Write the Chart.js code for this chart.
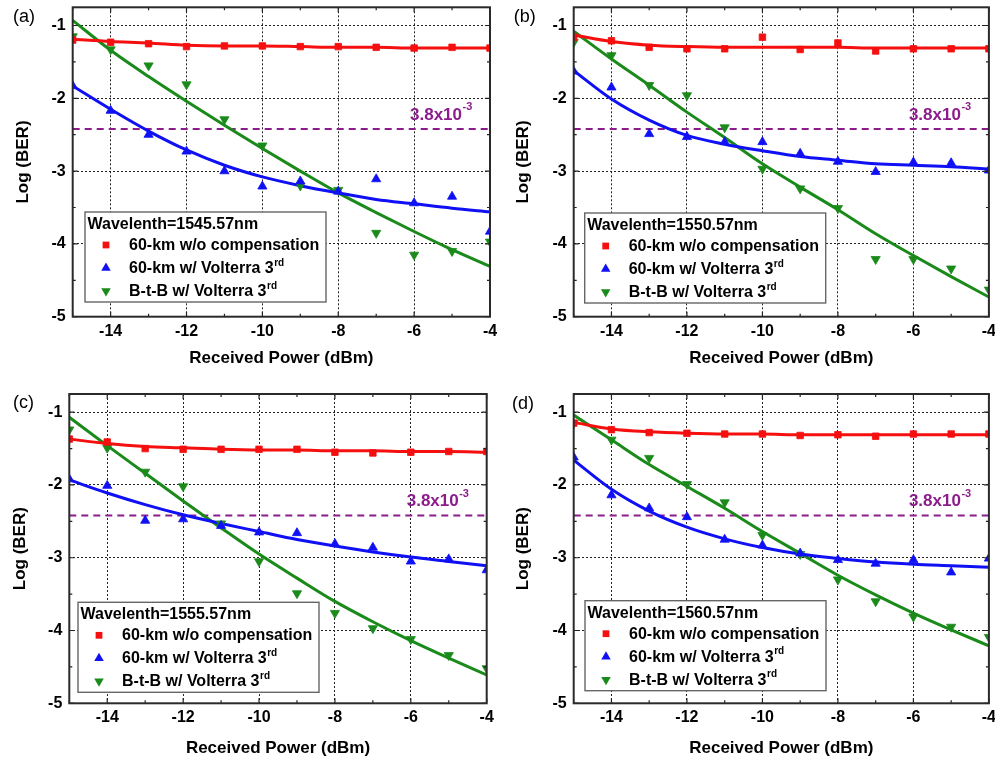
<!DOCTYPE html>
<html><head><meta charset="utf-8">
<script src="https://cdn.jsdelivr.net/npm/chart.js@4.4.1/dist/chart.umd.min.js"></script>
<style>
html,body{margin:0;padding:0;background:#fff;}
body{width:995px;height:759px;position:relative;overflow:hidden;}
.pane{position:absolute;}
</style></head><body>
<div class="pane" id="pa" style="left:0;top:0;width:497px;height:380px"><canvas id="ca"></canvas></div>
<div class="pane" id="pb" style="left:497px;top:0;width:498px;height:380px"><canvas id="cb"></canvas></div>
<div class="pane" id="pc" style="left:0;top:380px;width:497px;height:379px"><canvas id="cc"></canvas></div>
<div class="pane" id="pd" style="left:497px;top:380px;width:498px;height:379px"><canvas id="cd"></canvas></div>
<script>
// ---------- data ----------
const powerDbm = [-15,-14,-13,-12,-11,-10,-9,-8,-7,-6,-5,-4];
const xTickValues = [-14,-12,-10,-8,-6,-4];
const xTickLabels = ['-14','-12','-10','-8','-6','-4'];
const yTickValues = [-5,-4,-3,-2,-1];
const yTickLabels = ['-5','-4','-3','-2','-1'];
const panelLabels = ['(a)','(b)','(c)','(d)'];
const wavelengthLabels = ['Wavelenth=1545.57nm','Wavelenth=1550.57nm','Wavelenth=1555.57nm','Wavelenth=1560.57nm'];
const seriesNames = ['60-km w/o compensation','60-km w/ Volterra 3','B-t-B w/ Volterra 3'];
const seriesSup = ['','rd','rd'];
const xTitle = 'Received Power (dBm)';
const yTitle = 'Log (BER)';
const fecLogBer = -2.42;
const fecText = '3.8x10';
const fecExp = '-3';

// (a) 1545.57 nm
const aNoComp      = [-1.20,-1.23,-1.25,-1.29,-1.28,-1.28,-1.29,-1.29,-1.30,-1.31,-1.30,-1.31];
const aNoCompFit   = [-1.19,-1.22,-1.24,-1.27,-1.28,-1.28,-1.29,-1.30,-1.30,-1.31,-1.31,-1.31];
const aVolterra    = [-1.83,-2.17,-2.50,-2.73,-3.00,-3.21,-3.14,-3.28,-3.11,-3.44,-3.35,-3.83];
const aVolterraFit = [-1.83,-2.15,-2.45,-2.71,-2.92,-3.08,-3.20,-3.30,-3.39,-3.45,-3.51,-3.56];
const aBtB         = [-1.15,-1.33,-1.55,-1.81,-2.29,-2.65,-3.20,-3.26,-3.85,-4.15,-4.10,-3.97];
const aBtBFit      = [-0.93,-1.34,-1.70,-2.04,-2.37,-2.69,-3.00,-3.30,-3.57,-3.83,-4.08,-4.31];
// (b) 1550.57 nm
const bNoComp      = [-1.16,-1.21,-1.30,-1.32,-1.32,-1.16,-1.33,-1.24,-1.35,-1.32,-1.32,-1.32];
const bNoCompFit   = [-1.13,-1.22,-1.27,-1.29,-1.30,-1.30,-1.30,-1.30,-1.31,-1.31,-1.31,-1.31];
const bVolterra    = [-1.63,-1.85,-2.49,-2.53,-2.60,-2.60,-2.76,-2.87,-3.01,-2.88,-2.89,-2.99];
const bVolterraFit = [-1.62,-2.01,-2.30,-2.51,-2.63,-2.72,-2.80,-2.85,-2.90,-2.92,-2.94,-2.97];
const bBtB         = [-1.23,-1.41,-1.82,-1.96,-2.40,-2.97,-3.24,-3.51,-4.21,-4.21,-4.34,-4.63];
const bBtBFit      = [-1.08,-1.46,-1.82,-2.19,-2.54,-2.90,-3.22,-3.53,-3.86,-4.16,-4.45,-4.73];
// (c) 1555.57 nm
const cNoComp      = [-1.37,-1.41,-1.50,-1.51,-1.51,-1.51,-1.51,-1.55,-1.56,-1.55,-1.54,-1.54];
const cNoCompFit   = [-1.37,-1.43,-1.47,-1.49,-1.51,-1.52,-1.52,-1.53,-1.53,-1.54,-1.54,-1.55];
const cVolterra    = [-1.92,-2.01,-2.49,-2.47,-2.56,-2.65,-2.66,-2.81,-2.86,-3.05,-3.02,-3.17];
const cVolterraFit = [-1.93,-2.11,-2.27,-2.41,-2.53,-2.64,-2.75,-2.84,-2.92,-2.99,-3.05,-3.11];
const cBtB         = [-1.24,-1.49,-1.82,-2.02,-2.53,-3.05,-3.49,-3.76,-3.97,-4.12,-4.34,-4.52];
const cBtBFit      = [-1.07,-1.46,-1.84,-2.22,-2.59,-2.95,-3.28,-3.60,-3.88,-4.14,-4.38,-4.61];
// (d) 1560.57 nm
const dNoComp      = [-1.15,-1.24,-1.28,-1.29,-1.30,-1.30,-1.32,-1.31,-1.33,-1.30,-1.30,-1.30];
const dNoCompFit   = [-1.14,-1.23,-1.27,-1.29,-1.30,-1.30,-1.31,-1.31,-1.31,-1.31,-1.31,-1.31];
const dVolterra    = [-1.62,-2.14,-2.32,-2.44,-2.75,-2.83,-2.94,-3.03,-3.08,-3.03,-3.20,-3.01];
const dVolterraFit = [-1.66,-2.06,-2.36,-2.58,-2.74,-2.86,-2.95,-3.01,-3.06,-3.09,-3.11,-3.13];
const dBtB         = [-1.15,-1.38,-1.63,-1.99,-2.24,-2.69,-2.95,-3.30,-3.60,-3.81,-3.95,-4.09];
const dBtBFit      = [-1.04,-1.38,-1.72,-2.02,-2.32,-2.64,-2.94,-3.24,-3.51,-3.76,-3.99,-4.21];

// ---------- styling / layout ----------
const FONT = '"Liberation Sans", Arial, Helvetica, sans-serif';
Chart.defaults.font.family = FONT;
const RED = '#f50f0f', BLUE = '#1010f5', GREEN = '#1a8a1a', PURPLE = '#8c1c8c';
const seriesColors = [RED, BLUE, GREEN];
const seriesStyles = [{ps:'rect', rot:0}, {ps:'triangle', rot:0}, {ps:'triangle', rot:180}];

const panels = [
  {canvas:'ca', w:497, h:380, area:{l:72.7,t:7.3,r:490,b:316.7}, yPad:12.8, xPad:11.8, leg:{dx:12.3,db:14.7}, lab:{x:13,y:17},
   pts:[aNoComp,aVolterra,aBtB], fits:[aNoCompFit,aVolterraFit,aBtBFit]},
  {canvas:'cb', w:498, h:380, area:{l:76.7,t:7.3,r:493.3,b:316.7}, yPad:16.5, xPad:11.8, leg:{dx:11,db:13.7}, lab:{x:16.7,y:17},
   pts:[bNoComp,bVolterra,bBtB], fits:[bNoCompFit,bVolterraFit,bBtBFit]},
  {canvas:'cc', w:497, h:379, area:{l:69.3,t:14,r:486.7,b:323.3}, yPad:10, xPad:0.8, leg:{dx:8.7,db:11}, lab:{x:13,y:23},
   pts:[cNoComp,cVolterra,cBtB], fits:[cNoCompFit,cVolterraFit,cBtBFit]},
  {canvas:'cd', w:498, h:379, area:{l:76.7,t:14,r:493.3,b:323.3}, yPad:16.5, xPad:0.8, leg:{dx:11.3,db:12.6}, lab:{x:15,y:24},
   pts:[dNoComp,dVolterra,dBtB], fits:[dNoCompFit,dVolterraFit,dBtBFit]}
];

function drawMarker(ctx, style, color, x, y, r) {
  ctx.save();
  ctx.fillStyle = color;
  ctx.beginPath();
  if (style.ps === 'rect') {
    ctx.rect(x - r*0.72, y - r*0.72, r*1.44, r*1.44);
  } else {
    const s = style.rot === 180 ? -1 : 1;
    ctx.moveTo(x, y - s*r);
    ctx.lineTo(x - r*0.866, y + s*r*0.5);
    ctx.lineTo(x + r*0.866, y + s*r*0.5);
    ctx.closePath();
  }
  ctx.fill();
  ctx.restore();
}

const decorPlugin = {
  id: 'decor',
  afterDraw(chart) {
    const P = chart.config.options.plugins.decor.panel;
    const idx = chart.config.options.plugins.decor.index;
    const ctx = chart.ctx;
    const a = chart.chartArea;
    const xs = chart.scales.x, ys = chart.scales.y;
    ctx.save();
    // inward tick marks
    ctx.strokeStyle = '#222';
    ctx.lineWidth = 1.2;
    ctx.beginPath();
    for (let v = -15; v <= -4; v++) {
      const px = xs.getPixelForValue(v);
      const len = (v % 2 === 0) ? 5 : 3;
      ctx.moveTo(px, a.bottom); ctx.lineTo(px, a.bottom - len);
      ctx.moveTo(px, a.top); ctx.lineTo(px, a.top + len);
    }
    for (let v = -5; v <= -1; v += 0.5) {
      const py = ys.getPixelForValue(v);
      const len = Number.isInteger(v) ? 5 : 3;
      ctx.moveTo(a.left, py); ctx.lineTo(a.left + len, py);
      ctx.moveTo(a.right, py); ctx.lineTo(a.right - len, py);
    }
    ctx.stroke();
    // frame
    ctx.strokeStyle = '#2a2a2a';
    ctx.lineWidth = 2;
    ctx.strokeRect(a.left, a.top, a.right - a.left, a.bottom - a.top);

    // FEC label
    const fy = ys.getPixelForValue(fecLogBer);
    ctx.fillStyle = PURPLE;
    ctx.textBaseline = 'middle';
    ctx.textAlign = 'left';
    ctx.font = 'bold 17px ' + FONT;
    const tx = a.right - 80;
    ctx.fillText(fecText, tx, fy - 14);
    const tw = ctx.measureText(fecText).width;
    ctx.font = 'bold 11px ' + FONT;
    ctx.fillText(fecExp, tx + tw + 0.5, fy - 21.5);

    // legend
    const bw = 241, bh = 90;
    const bx = a.left + P.leg.dx, by = a.bottom - P.leg.db - bh;
    ctx.fillStyle = '#fff';
    ctx.fillRect(bx, by, bw, bh);
    ctx.strokeStyle = '#666';
    ctx.lineWidth = 1.4;
    ctx.strokeRect(bx, by, bw, bh);
    ctx.fillStyle = '#000';
    ctx.font = 'bold 16px ' + FONT;
    ctx.fillText(wavelengthLabels[idx], bx + 2.5, by + 12.5);
    const rows = [33, 56, 79];
    for (let i = 0; i < 3; i++) {
      const ry = by + rows[i];
      drawMarker(ctx, seriesStyles[i], seriesColors[i], bx + 21, ry, i === 0 ? 4.7 : 5.5);
      ctx.fillStyle = '#000';
      ctx.font = 'bold 16px ' + FONT;
      ctx.fillText(seriesNames[i], bx + 44, ry + 0.5);
      if (seriesSup[i]) {
        const w = ctx.measureText(seriesNames[i]).width;
        ctx.font = 'bold 10px ' + FONT;
        ctx.fillText(seriesSup[i], bx + 44 + w + 0.5, ry - 5);
      }
    }
    // panel label
    ctx.fillStyle = '#000';
    ctx.font = '18px ' + FONT;
    ctx.textBaseline = 'middle';
    ctx.fillText(panelLabels[idx], P.lab.x, P.lab.y);
    ctx.restore();
  }
};

function xy(ys) { return powerDbm.map((x, i) => ({x: x, y: ys[i]})); }

panels.forEach((P, idx) => {
  const datasets = [];
  for (let i = 0; i < 3; i++) {
    datasets.push({
      type: 'scatter', data: xy(P.pts[i]), showLine: false,
      pointStyle: seriesStyles[i].ps, rotation: seriesStyles[i].rot,
      pointRadius: i === 0 ? 4.6 : 5.3, pointBorderWidth: 0.8,
      backgroundColor: seriesColors[i], borderColor: seriesColors[i],
      clip: 0, order: 0
    });
  }
  for (let i = 0; i < 3; i++) {
    datasets.push({
      type: 'line', data: xy(P.fits[i]), pointRadius: 0, borderWidth: 3,
      borderColor: seriesColors[i], backgroundColor: seriesColors[i],
      tension: 0.4, cubicInterpolationMode: 'monotone', fill: false, clip: 0, order: 1
    });
  }
  datasets.push({
    type: 'line',
    data: [{x: powerDbm[0], y: fecLogBer}, {x: powerDbm[powerDbm.length - 1], y: fecLogBer}],
    pointRadius: 0, borderWidth: 2, borderColor: PURPLE, borderDash: [7, 5], fill: false, clip: 0, order: 2
  });

  new Chart(document.getElementById(P.canvas), {
    type: 'scatter',
    data: {datasets},
    options: {
      responsive: true, maintainAspectRatio: false, animation: false,
      layout: {padding: {left: 0, top: P.area.t, right: P.w - P.area.r, bottom: 0}},
      plugins: {legend: {display: false}, tooltip: {enabled: false}, decor: {panel: P, index: idx}},
      scales: {
        x: {
          type: 'linear', min: -15, max: -4,
          afterBuildTicks: s => { s.ticks = xTickValues.map(v => ({value: v})); },
          afterFit: s => { s.height = P.h - P.area.b; s.paddingLeft = 0; s.paddingRight = 0; },
          ticks: {padding: 5, color: '#000', font: {size: 16, weight: 'bold'}, maxRotation: 0, autoSkip: false,
                  callback: v => xTickLabels[xTickValues.indexOf(v)]},
          grid: {color: '#222', lineWidth: 1, drawTicks: false},
          border: {display: false, dash: [2, 2]},
          title: {display: true, text: xTitle, color: '#000', font: {size: 17, weight: 'bold'}, padding: {top: 0, bottom: P.xPad}}
        },
        y: {
          type: 'linear', min: -5, max: -0.75,
          afterBuildTicks: s => { s.ticks = yTickValues.map(v => ({value: v})); },
          afterFit: s => { s.width = P.area.l; s.paddingTop = 0; s.paddingBottom = 0; },
          ticks: {padding: 7, color: '#000', font: {size: 16, weight: 'bold'},
                  callback: v => yTickLabels[yTickValues.indexOf(v)]},
          grid: {color: '#222', lineWidth: 1, drawTicks: false},
          border: {display: false, dash: [2, 2]},
          title: {display: true, text: yTitle, color: '#000', font: {size: 17, weight: 'bold'}, padding: {top: P.yPad, bottom: 0}}
        }
      }
    },
    plugins: [decorPlugin]
  });
});
</script>
</body></html>
